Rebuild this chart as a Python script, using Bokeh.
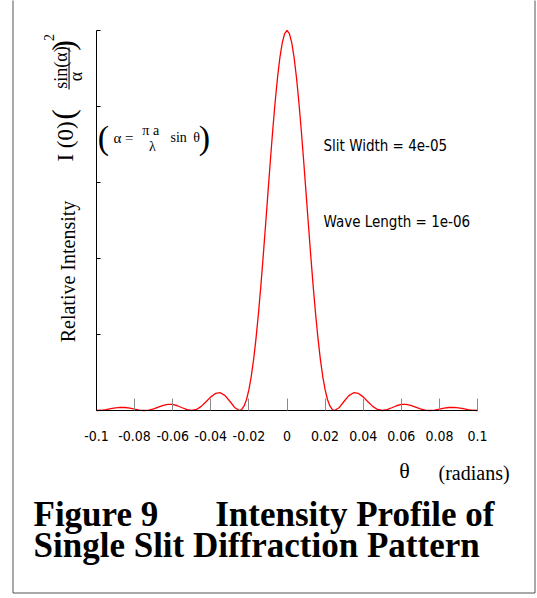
from bokeh.plotting import figure
from bokeh.models import Label, BoxAnnotation, FixedTicker, CustomJSTickFormatter
from bokeh.embed import file_html
from bokeh.resources import INLINE

# ---- data ----
theta = [
    -0.1, -0.0975, -0.095, -0.0925, -0.09, -0.0875, -0.085, -0.0825, -0.08, -0.0775,
    -0.075, -0.0725, -0.07, -0.0675, -0.065, -0.0625, -0.06, -0.0575, -0.055, -0.0525,
    -0.05, -0.0475, -0.045, -0.0425, -0.04, -0.0375, -0.035, -0.0325, -0.03, -0.0275,
    -0.025, -0.02375, -0.0225, -0.02125, -0.02, -0.01875, -0.0175, -0.01625, -0.015, -0.01375,
    -0.0125, -0.01125, -0.01, -0.00875, -0.0075, -0.00625, -0.005, -0.00375, -0.0025, -0.00125,
    0.0,
    0.00125, 0.0025, 0.00375, 0.005, 0.00625, 0.0075, 0.00875, 0.01, 0.01125, 0.0125,
    0.01375, 0.015, 0.01625, 0.0175, 0.01875, 0.02, 0.02125, 0.0225, 0.02375, 0.025,
    0.0275, 0.03, 0.0325, 0.035, 0.0375, 0.04, 0.0425, 0.045, 0.0475, 0.05,
    0.0525, 0.055, 0.0575, 0.06, 0.0625, 0.065, 0.0675, 0.07, 0.0725, 0.075,
    0.0775, 0.08, 0.0825, 0.085, 0.0875, 0.09, 0.0925, 0.095, 0.0975, 0.1,
]
intensity = [
    0.0, 0.0006, 0.0024, 0.0048, 0.0071, 0.0083, 0.0079, 0.0061, 0.0034, 0.0010,
    0.0, 0.0012, 0.0045, 0.0091, 0.0136, 0.0162, 0.0159, 0.0125, 0.0072, 0.0022,
    0.0, 0.0027, 0.0108, 0.0229, 0.0358, 0.0450, 0.0468, 0.0392, 0.0243, 0.0080,
    0.0, 0.0027, 0.0119, 0.0289, 0.0547, 0.0901, 0.1353, 0.1904, 0.2546, 0.3267,
    0.4053, 0.4881, 0.5728, 0.6566, 0.7368, 0.8106, 0.8751, 0.9281, 0.9675, 0.9918,
    1.0,
    0.9918, 0.9675, 0.9281, 0.8751, 0.8106, 0.7368, 0.6566, 0.5728, 0.4881, 0.4053,
    0.3267, 0.2546, 0.1904, 0.1353, 0.0901, 0.0547, 0.0289, 0.0119, 0.0027, 0.0,
    0.0080, 0.0243, 0.0392, 0.0468, 0.0450, 0.0358, 0.0229, 0.0108, 0.0027, 0.0,
    0.0022, 0.0072, 0.0125, 0.0159, 0.0162, 0.0136, 0.0091, 0.0045, 0.0012, 0.0,
    0.0010, 0.0034, 0.0061, 0.0079, 0.0083, 0.0071, 0.0048, 0.0024, 0.0006, 0.0,
]
x_ticks = [-0.1, -0.08, -0.06, -0.04, -0.02, 0.0, 0.02, 0.04, 0.06, 0.08, 0.1]
x_tick_labels = ["-0.1", "-0.08", "-0.06", "-0.04", "-0.02", "0",
                 "0.02", "0.04", "0.06", "0.08", "0.1"]
y_ticks = [0.0, 0.2, 0.4, 0.6, 0.8, 1.0]
slit_width_text = "Slit Width = 4e-05"
wave_length_text = "Wave Length = 1e-06"
caption_1a = "Figure 9"
caption_1b = "Intensity Profile of"
caption_2 = "Single Slit Diffraction Pattern"

# ---- layout (page pixels; the canvas starts at page (0, 0)) ----
W, H = 537, 598
PX_L, PX_R = 96, 477         # page x of theta = -0.1 and 0.1
PY_T, PY_B = 30, 410         # page y of intensity = 1 and 0
XA, XB = -0.1, 0.1
kx = (XB - XA) / (PX_R - PX_L)
ky = 1.0 / (PY_B - PY_T)

def dx(px):
    return XA + (px - PX_L) * kx

def dy(py):
    return (PY_B - py) * ky

p = figure(width=W, height=H,
           x_range=(dx(0), dx(W)), y_range=(dy(H), dy(0)),
           output_backend="svg", toolbar_location=None,
           min_border_left=0, min_border_right=0, min_border_top=0, min_border_bottom=0)
p.background_fill_color = "white"
p.border_fill_color = "white"
p.outline_line_color = None
p.grid.visible = False

p.line(theta, intensity, line_color="red", line_width=1.3)

xa = p.xaxis[0]
xa.fixed_location = 0
xa.bounds = (x_ticks[0], x_ticks[-1])
xa.ticker = FixedTicker(ticks=x_ticks, minor_ticks=[])
xa.formatter = CustomJSTickFormatter(args=dict(vals=x_ticks, labels=x_tick_labels), code="""
let best = 0;
for (let i = 0; i < vals.length; i++) {
  if (Math.abs(vals[i] - tick) < Math.abs(vals[best] - tick)) best = i;
}
return labels[best];
""")
xa.major_tick_in = 12
xa.major_tick_out = 0
xa.major_tick_line_color = "#8a8a8a"
xa.minor_tick_line_color = None
xa.axis_line_color = "black"
xa.major_label_text_font = "DejaVu Sans Condensed"
xa.major_label_text_font_size = "14px"
xa.major_label_text_color = "black"
xa.major_label_standoff = 20

ya = p.yaxis[0]
ya.fixed_location = XA
ya.bounds = (y_ticks[0], y_ticks[-1])
ya.ticker = FixedTicker(ticks=y_ticks, minor_ticks=[])
ya.formatter = CustomJSTickFormatter(code="return ''")
ya.major_tick_in = 4
ya.major_tick_out = 0
ya.major_tick_line_color = "black"
ya.minor_tick_line_color = None
ya.axis_line_color = "black"

def lab(text, px, py, size, font="Liberation Serif", style="normal",
        align="center", angle=0):
    p.add_layout(Label(x=dx(px), y=dy(py), text=text, text_font=font,
                       text_font_size=f"{size}px", text_font_style=style,
                       text_align=align, text_baseline="middle",
                       angle=angle, angle_units="deg", text_color="black"))

# y-axis label and formula (rotated, reading upwards)
lab("Relative Intensity", 67, 271, 20, angle=90)
lab("I\u00a0(0)", 65, 141, 23, angle=90)
lab("(", 62, 114, 32, angle=90)
lab("sin(\u03b1)", 60, 67, 18, angle=90)
lab("\u03b1", 75, 76, 18, angle=90)
lab(")", 62, 45, 32, angle=90)
lab("2", 48, 37, 14, angle=90)
p.add_layout(BoxAnnotation(left=dx(68), right=dx(69.1), top=dy(47), bottom=dy(89),
                           fill_color="black", fill_alpha=1.0, line_color=None))

# alpha definition
lab("(", 103, 137, 34)
lab("\u03b1 =", 113, 137, 15, align="left")
lab("\u03c0  a", 152, 130, 14)
lab("\u03bb", 152, 146, 14)
lab("sin", 170, 137, 14, align="left")
lab("\u03b8", 196, 137, 14)
lab(")", 204, 137, 34)

# parameters
lab(slit_width_text, 323, 145, 15, font="DejaVu Sans Condensed", align="left")
lab(wave_length_text, 323, 221, 15, font="DejaVu Sans Condensed", align="left")

# x-axis label
lab("\u03b8", 404, 470, 22)
lab("(radians)", 438, 472, 20, align="left")

# caption
lab(caption_1a, 33, 514, 35, style="bold", align="left")
lab(caption_1b, 494, 514, 35, style="bold", align="right")
lab(caption_2, 33, 545, 35, style="bold", align="left")

# page frame
p.add_layout(BoxAnnotation(left=dx(12.5), right=dx(534.5), top=dy(-20), bottom=dy(592.5),
                           fill_color=None, line_color="#555555", line_alpha=1.0, line_width=1))

open("out.html", "w").write(file_html(p, INLINE))
